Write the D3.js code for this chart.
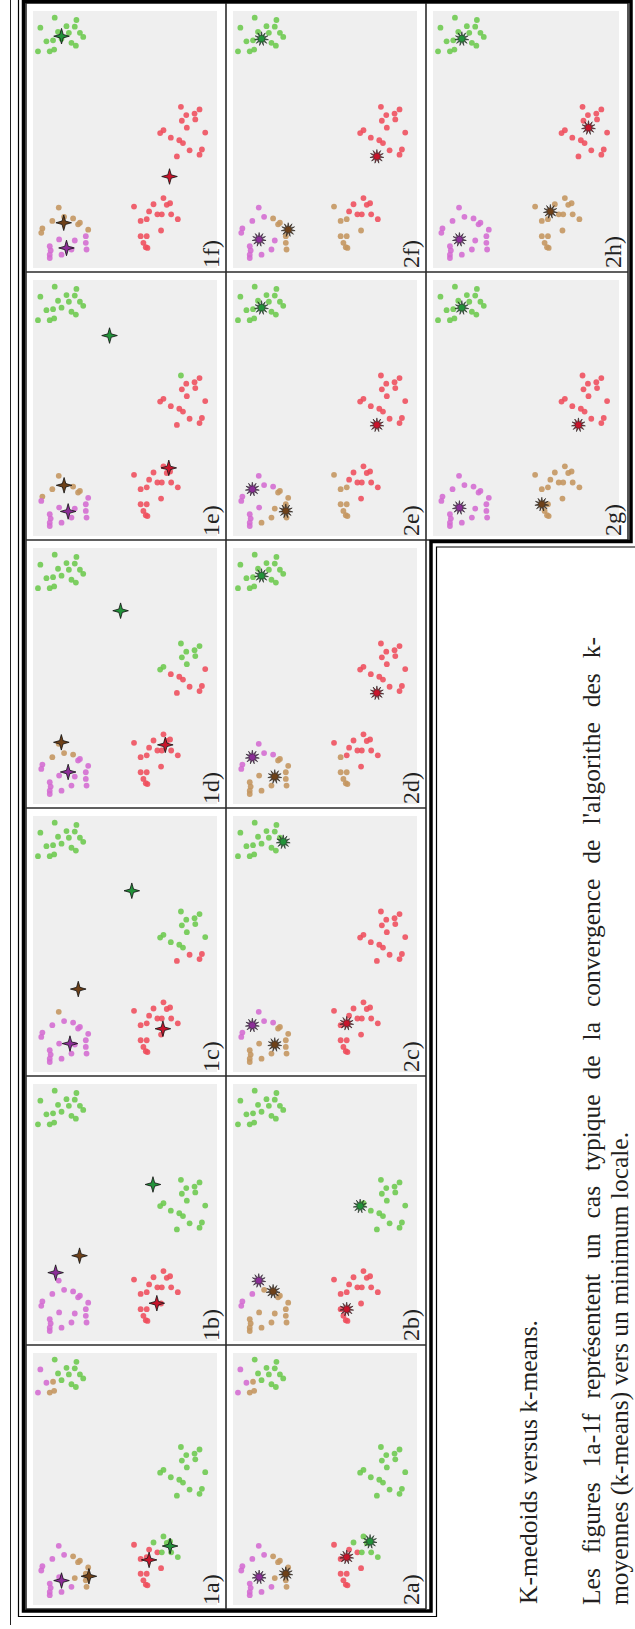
<!DOCTYPE html>
<html><head><meta charset="utf-8">
<script src="https://cdn.jsdelivr.net/npm/d3@7"></script>
<style>html,body{margin:0;padding:0;background:#fff}</style>
</head><body>
<script>
// ---------------- DATA ----------------
// Points (same data set in every panel). X = horizontal value, Y = vertical value (0..100)
const clusterAX = [97.4,93.5,96.5,94.1,93.9,91.9,91.5,91.5,89.9,88.2,88.6,89.2,87.6,86.5,84.3,84.3,85.0];
const clusterAY = [88.2,96.0,76.4,81.8,77.3,86.4,80.5,74.5,72.7,92.7,89.1,84.5,79.1,76.7,97.3,90.9,88.5];
const clusterBX = [62.7,61.7,60.1,59.5,57.8,57.3,53.6,52.5,54.6,52.7,50.7,49.7,48.6,45.8,46.1,44.1,43.4];
const clusterBY = [19.6,9.5,12.2,16.7,11.8,19.1,29.1,30.9,16.4,6.4,25.1,20.5,18.5,14.9,8.2,9.5,21.8];
const clusterCX = [27.2,25.2,24.6,24.8,23.9,22.0,20.9,20.9,20.9,19.0,18.3,19.0,14.6,12.4,12.4,9.8,8.1,7.8];
const clusterCY = [29.1,25.5,27.3,34.5,45.1,36.9,32.4,30.0,24.9,38.2,41.5,21.3,30.4,41.5,38.2,40.0,38.7,37.8];
const clusterDX = [23.5,18.3,19.9,19.3,17.6,17.0,15.4,13.7,14.9,11.1,10.7,12.4,9.8,7.2,8.5,6.8,5.2,3.9,5.2,7.2];
const clusterDY = [86.0,89.5,83.1,78.2,74.5,75.5,94.9,95.5,70.0,85.8,77.3,71.3,71.3,70.9,90.9,90.4,90.9,90.9,84.5,79.1];

// Panels
const panelNames = ["1a)","1b)","1c)","1d)","1e)","1f)","2a)","2b)","2c)","2d)","2e)","2f)","2g)","2h)"];
const panelMethod = ["means","means","means","means","means","means","medoids","medoids","medoids","medoids","medoids","medoids","medoids","medoids"];
// cluster membership of every point (A | B | C | D), p=purple b=brown r=red g=green
const panelAssign = [
 "gpggg ggggp bgggp bb | ggggg ggggg ggggg gg | ggggr rrggr rgrrr rrr | pppbb bppbp bbbbp ppppp",
 "ggggg ggggg ggggg gg | ggggg ggggg ggggg gg | rrrrr rrrrr rrrrr rrr | ppppp ppppp ppppp ppppp",
 "ggggg ggggg ggggg gg | ggggg ggggg gggrr rr | rrrrr rrrrr rrrrr rrr | bpppp ppppp ppppp ppppp",
 "ggggg ggggg ggggg gg | ggggg ggggr rrrrr rr | rrrrr rrrrr rrrrr rrr | bbbbp ppppp ppppp ppppp",
 "ggggg ggggg ggggg gg | grrrr rrrrr rrrrr rr | rrrrr rrrrr rrrrr rrr | bbbbb bbppp ppppp ppppp",
 "ggggg ggggg ggggg gg | rrrrr rrrrr rrrrr rr | rrrrr rrrrr rrrrr rrr | bbbbb bbbbp ppppp ppppp",
 "gpggg ggggp bgggp bb | ggggg ggggg ggggg gg | ggggr rrggr rgrrr rrr | pppbb bppbp bbbbp ppppp",
 "ggggg ggggg ggggg gg | ggggg ggggg ggggg gg | rrrrr rrrrr rrrrr rrr | ppbbb bppbb bbbbb bbbbb",
 "ggggg ggggg ggggg gg | rrrrr rrrrr rrrrr rr | rrrrr rrrrr rrrrr rrr | ppppb bppbb bbbbb bbbbb",
 "ggggg ggggg ggggg gg | rrrrr rrrrr rrrrr rr | rrrrr rrrrr brrbb bbb | ppppb bppbb bbbbb bbbbb",
 "ggggg ggggg ggggg gg | rrrrr rrrrr rrrrr rr | rrrrb rrrrb brrbb bbb | ppppb bppbp bbbbp pppbb",
 "ggggg ggggg ggggg gg | rrrrr rrrrr rrrrr rr | rrrrb rrrrb brbbb bbb | pppbb bppbp pbbbp ppppp",
 "ggggg ggggg ggggg gg | rrrrr rrrrr rrrrr rr | bbbbb bbbbb bbbbb bbb | ppppp ppppp ppppp ppppp",
 "ggggg ggggg ggggg gg | rrrrr rrrrr rrrrr rr | bbbbb bbbbb bbbbb bbb | ppppp ppppp ppppp ppppp"
];
// centres per panel, order: purple, brown, red, green  ([X, Y])
const panelCentres = [
 [[9.7,84.5],[11.4,69.6],[17.9,36.9],[23.4,25.5]],
 [[26.6,87.7],[33.2,74.7],[14.7,32.7],[60.9,34.8]],
 [[11.1,79.9],[32.4,75.4],[16.9,29.4],[70.8,46.3]],
 [[12.5,80.9],[24.1,84.6],[23.1,28.1],[75.5,52.4]],
 [[9.6,80.9],[19.8,83.1],[26.6,26.2],[78.3,58.4]],
 [[7.8,81.8],[17.6,83.3],[35.6,25.8],[90.2,84.5]],
 [[11.1,85.8],[12.4,71.3],[19.0,38.2],[25.2,25.5]],
 [[23.5,86.0],[19.3,78.2],[12.4,38.2],[52.5,30.9]],
 [[18.3,89.5],[10.7,77.3],[19.0,38.2],[89.9,72.7]],
 [[18.3,89.5],[10.7,77.3],[43.4,21.8],[89.2,84.5]],
 [[18.3,89.5],[9.8,71.3],[43.4,21.8],[89.2,84.5]],
 [[11.1,85.8],[14.9,70.0],[43.4,21.8],[89.2,84.5]],
 [[11.1,85.8],[12.4,41.5],[43.4,21.8],[89.2,84.5]],
 [[11.1,85.8],[22.0,36.9],[54.6,16.4],[89.2,84.5]]
];
const centreKeys = ["p","b","r","g"];

const titleText = "K-medoids versus k-means.";
const paraLines = ["Les figures 1a-1f représentent un cas typique de la convergence de l'algorithe des k-",
                   "moyennes (k-means) vers un minimum locale."];

// ---------------- LAYOUT / STYLE ----------------
const panelCol = [0,0,0,0,0,0,1,1,1,1,1,1,2,2];
const panelRow = [5,4,3,2,1,0,5,4,3,2,1,0,1,0];
const colX = [26, 226, 426, 628];
const rowY = [3, 272, 540, 808, 1076, 1345, 1609];
const ptColor = {p:"#d46bd2", b:"#c4955f", r:"#ef4d5c", g:"#6cc94d"};
const ctColor = {p:"#8c2e98", b:"#6e4119", r:"#c8142b", g:"#22923a"};
const serif = "'Liberation Serif','Times New Roman',serif";

const W = 635, H = 1629;
const svg = d3.select("body").append("svg").attr("width", W).attr("height", H);
svg.append("rect").attr("width", W).attr("height", H).attr("fill", "#fff");

const allX = clusterAX.concat(clusterBX, clusterCX, clusterDX);
const allY = clusterAY.concat(clusterBY, clusterCY, clusterDY);

function starPath(n, R, r) {
  const pts = [];
  for (let i = 0; i < 2 * n; i++) {
    const a = -Math.PI / 2 + i * Math.PI / n;
    const rad = i % 2 === 0 ? R : r;
    pts.push([Math.cos(a) * rad, Math.sin(a) * rad]);
  }
  return "M" + pts.map(p => p[0].toFixed(2) + "," + p[1].toFixed(2)).join("L") + "Z";
}

panelNames.forEach((name, i) => {
  const c = panelCol[i], r = panelRow[i];
  const x0 = colX[c], x1 = colX[c + 1], y0 = rowY[r], y1 = rowY[r + 1];
  const gx0 = x0 + 7, gx1 = x1 - 9, gy0 = y0 + 8, gy1 = y1 - 4;
  const g = svg.append("g");
  g.append("rect").attr("x", gx0).attr("y", gy0).attr("width", gx1 - gx0).attr("height", gy1 - gy0)
    .attr("fill", "#efefef");
  // rotated chart: data X runs bottom->top, data Y runs right->left
  const sX = d3.scaleLinear().domain([0, 100]).range([gy1, gy0]);
  const sY = d3.scaleLinear().domain([0, 100]).range([gx1, gx0]);
  const labels = panelAssign[i].replace(/[\s|]/g, "").split("");
  const data = allX.map((v, k) => ({x: v, y: allY[k], c: labels[k]}));
  g.selectAll("circle.pt").data(data).join("circle").attr("class", "pt")
    .attr("cx", d => sY(d.y)).attr("cy", d => sX(d.x)).attr("r", 2.9)
    .attr("fill", d => ptColor[d.c]).attr("fill-opacity", 0.88);
  const cent = panelCentres[i].map((v, k) => ({x: v[0], y: v[1], c: centreKeys[k]}));
  if (panelMethod[i] === "means") {
    g.selectAll("path.ct").data(cent).join("path").attr("class", "ct")
      .attr("d", starPath(4, 7.8, 2.4))
      .attr("transform", d => `translate(${sY(d.y)},${sX(d.x)})`)
      .attr("fill", d => ctColor[d.c]).attr("stroke", "#111").attr("stroke-width", 0.8);
  } else {
    g.selectAll("path.ct").data(cent).join("path").attr("class", "ct")
      .attr("d", starPath(11, 7, 2.8))
      .attr("transform", d => `translate(${sY(d.y)},${sX(d.x)})`)
      .attr("fill", d => ctColor[d.c]).attr("stroke", "#222").attr("stroke-width", 0.6);
    g.selectAll("circle.ctc").data(cent).join("circle").attr("class", "ctc")
      .attr("cx", d => sY(d.y)).attr("cy", d => sX(d.x)).attr("r", 2.5)
      .attr("fill", d => ctColor[d.c]);
  }
  g.append("text").attr("transform", `translate(${x1 - 7},${y1 - 4}) rotate(-90)`)
    .attr("font-family", serif).attr("font-size", 24).attr("fill", "#222").text(name);
});

// grid lines of the cells
const grid = svg.append("g").attr("stroke", "#2b2b2b").attr("stroke-width", 1.6).attr("fill", "none");
grid.append("line").attr("x1", colX[1]).attr("x2", colX[1]).attr("y1", rowY[0]).attr("y2", rowY[6]);
grid.append("line").attr("x1", colX[2]).attr("x2", colX[2]).attr("y1", rowY[0]).attr("y2", rowY[6]);
grid.append("line").attr("x1", colX[3]).attr("x2", colX[3]).attr("y1", rowY[0]).attr("y2", rowY[2]);
for (let k = 0; k <= 6; k++) {
  const xe = k <= 2 ? colX[3] : colX[2];
  grid.append("line").attr("x1", colX[0]).attr("x2", xe).attr("y1", rowY[k]).attr("y2", rowY[k]);
}
grid.append("line").attr("x1", colX[0]).attr("x2", colX[0]).attr("y1", rowY[0]).attr("y2", rowY[6]);

// outer frame (thick + thin) and far-left rule
svg.append("path").attr("d", "M23.5,1.5V1611H431V541.5H631V1.5Z")
  .attr("fill", "none").attr("stroke", "#000").attr("stroke-width", 3.5);
svg.append("path").attr("d", "M18.5,-5V1616.5H436.5V547H645")
  .attr("fill", "none").attr("stroke", "#000").attr("stroke-width", 1.2);
svg.append("line").attr("x1", 10.5).attr("x2", 10.5).attr("y1", 0).attr("y2", 1625)
  .attr("stroke", "#222").attr("stroke-width", 1);

// caption text (rotated)
const txtCol = "#231f20";
svg.append("text").attr("transform", "translate(537,1604) rotate(-90)")
  .attr("font-family", serif).attr("font-size", 25.5).attr("fill", txtCol).text(titleText);
const l1 = svg.append("text").attr("transform", "translate(600,1605) rotate(-90)")
  .attr("font-family", serif).attr("font-size", 25.5).attr("fill", txtCol).text(paraLines[0]);
const natural = l1.node().getComputedTextLength();
const nSpaces = paraLines[0].split(" ").length - 1;
const target = 1605 - 637;
l1.attr("word-spacing", ((target - natural) / nSpaces).toFixed(2));
svg.append("text").attr("transform", "translate(628,1605) rotate(-90)")
  .attr("font-family", serif).attr("font-size", 25.5).attr("fill", txtCol).text(paraLines[1]);
</script>
</body></html>
